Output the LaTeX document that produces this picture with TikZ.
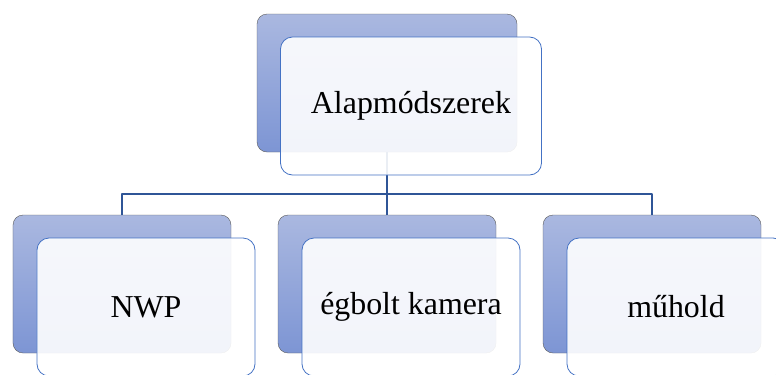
\documentclass[tikz,border=0pt]{standalone}
\usepackage{fontspec}
\setmainfont{Liberation Serif}
\definecolor{backtop}{HTML}{AAB8E0}
\definecolor{backbot}{HTML}{7D95D4}
\definecolor{frontline}{HTML}{4472C4}
\definecolor{linkblue}{HTML}{2F5597}
\tikzset{
  backbox/.style={draw=black!65, rounded corners=10bp, top color=backtop, bottom color=backbot,
    minimum width=218bp, minimum height=138bp, inner sep=0pt},
  frontbox/.style={draw=frontline, line width=0.8bp, fill=white, fill opacity=0.9, text opacity=1,
    rounded corners=12bp, minimum width=218bp, minimum height=138bp, inner sep=0pt},
  link/.style={draw=linkblue, line width=2.2bp}
}
\begin{document}
\begin{tikzpicture}[x=1bp, y=-1bp, line join=round, font=\fontsize{32}{38}\selectfont]
\useasboundingbox (0,0) rectangle (776,374);
\clip (0,0) rectangle (776,374);
% back boxes
\node[backbox, minimum width=260bp] (topback) at (387,83) {};
\foreach \x/\name in {122/nwp, 387/kamera, 652/muhold}
  \node[backbox] (\name back) at (\x,284) {};
% connectors
\coordinate (bus) at (387,194);
\draw[link] (topback.south) -- (bus);
\foreach \name in {nwp, kamera, muhold}
  \draw[link] (bus) -| (\name back.north);
% front boxes
\node[frontbox, minimum width=261bp] (topfront) at (411,106) {Alapmódszerek};
\foreach \x/\name/\txt in {146/nwp/NWP, 411/kamera/égbolt kamera, 676/muhold/műhold}
  \node[frontbox] (\name front) at (\x,307) {\txt};
\end{tikzpicture}
\end{document}
